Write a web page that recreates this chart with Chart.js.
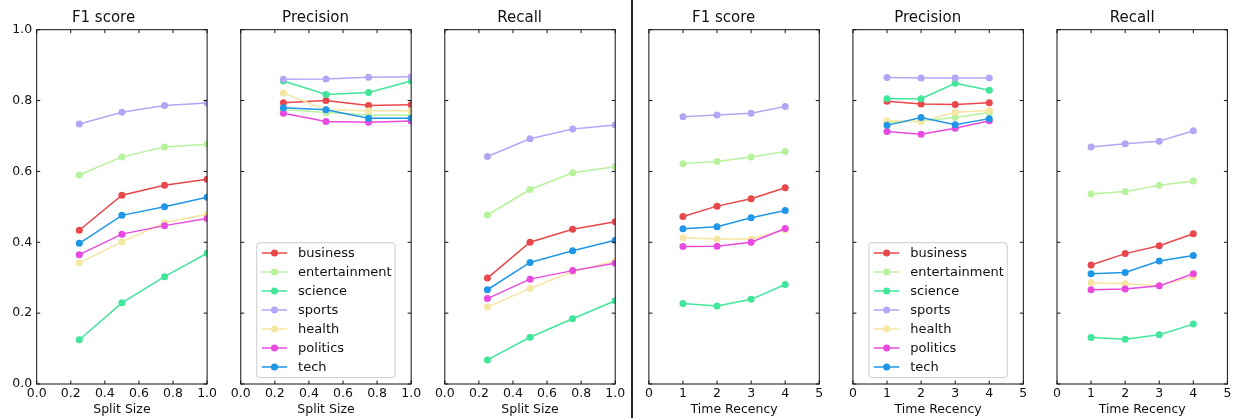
<!DOCTYPE html>
<html>
<head>
<meta charset="utf-8">
<script src="https://cdn.jsdelivr.net/npm/chart.js@4.4.0/dist/chart.umd.min.js"></script>
<style>
body { margin: 0; background: #fff; }
#wrap { position: relative; width: 1238px; height: 418px; overflow: hidden; }
canvas { position: absolute; top: 0; }
#divider { position: absolute; left: 631px; top: 0; width: 2px; height: 418px; background: #222; }
</style>
</head>
<body>
<div id="wrap"></div>
<script>
var categories = ['business', 'entertainment', 'science', 'sports', 'health', 'politics', 'tech'];
var colours = ['#e8474b', '#b9f29c', '#41e69b', '#b5a6f5', '#f5e6a1', '#e84ae0', '#1f96e8'];

var splitSizes = [0.25, 0.5, 0.75, 1.0];
var recencies = [1, 2, 3, 4];
var splitTicks = [0, 0.2, 0.4, 0.6, 0.8, 1.0];
var recencyTicks = [0, 1, 2, 3, 4, 5];
var yTicks = [0, 0.2, 0.4, 0.6, 0.8, 1.0];

// one row per category, same order as categories
var f1Split = [
	[0.434, 0.533, 0.561, 0.578],
	[0.590, 0.641, 0.669, 0.677],
	[0.125, 0.229, 0.303, 0.369],
	[0.734, 0.767, 0.786, 0.793],
	[0.342, 0.401, 0.455, 0.479],
	[0.365, 0.423, 0.447, 0.467],
	[0.397, 0.476, 0.500, 0.527]
];
var precSplit = [
	[0.794, 0.800, 0.786, 0.788],
	[0.775, 0.766, 0.759, 0.759],
	[0.855, 0.817, 0.823, 0.855],
	[0.860, 0.861, 0.866, 0.867],
	[0.821, 0.774, 0.771, 0.771],
	[0.764, 0.741, 0.739, 0.742],
	[0.780, 0.774, 0.750, 0.750]
];
var recSplit = [
	[0.299, 0.400, 0.437, 0.458],
	[0.477, 0.549, 0.596, 0.613],
	[0.068, 0.132, 0.184, 0.235],
	[0.642, 0.692, 0.720, 0.731],
	[0.217, 0.270, 0.317, 0.347],
	[0.241, 0.296, 0.320, 0.341],
	[0.266, 0.343, 0.376, 0.406]
];
var f1Time = [
	[0.473, 0.502, 0.523, 0.554],
	[0.622, 0.628, 0.641, 0.656],
	[0.227, 0.220, 0.239, 0.281],
	[0.754, 0.759, 0.764, 0.783],
	[0.413, 0.409, 0.409, 0.435],
	[0.388, 0.389, 0.400, 0.439],
	[0.438, 0.444, 0.469, 0.490]
];
var precTime = [
	[0.798, 0.790, 0.789, 0.794],
	[0.738, 0.742, 0.752, 0.766],
	[0.805, 0.805, 0.849, 0.829],
	[0.865, 0.864, 0.864, 0.864],
	[0.743, 0.740, 0.767, 0.772],
	[0.713, 0.705, 0.722, 0.743],
	[0.730, 0.752, 0.732, 0.749]
];
var recTime = [
	[0.336, 0.368, 0.390, 0.424],
	[0.536, 0.543, 0.561, 0.573],
	[0.131, 0.126, 0.139, 0.169],
	[0.669, 0.678, 0.685, 0.715],
	[0.286, 0.283, 0.277, 0.303],
	[0.266, 0.268, 0.277, 0.311],
	[0.311, 0.315, 0.347, 0.363]
];

var panels = [
	{ title: 'F1 score', xLabel: 'Split Size', xs: splitSizes, xTicks: splitTicks, max: 1, values: f1Split, legend: false },
	{ title: 'Precision', xLabel: 'Split Size', xs: splitSizes, xTicks: splitTicks, max: 1, values: precSplit, legend: true },
	{ title: 'Recall', xLabel: 'Split Size', xs: splitSizes, xTicks: splitTicks, max: 1, values: recSplit, legend: false },
	{ title: 'F1 score', xLabel: 'Time Recency', xs: recencies, xTicks: recencyTicks, max: 5, values: f1Time, legend: false },
	{ title: 'Precision', xLabel: 'Time Recency', xs: recencies, xTicks: recencyTicks, max: 5, values: precTime, legend: true },
	{ title: 'Recall', xLabel: 'Time Recency', xs: recencies, xTicks: recencyTicks, max: 5, values: recTime, legend: false }
];

Chart.defaults.font.family = 'DejaVu Sans';
Chart.defaults.color = '#111';

var PLOT_W = 170.4, PLOT_TOP = 29.7, PLOT_BOTTOM = 384, H = 418;

// box around the axes with inward ticks, plus the boxed legend
var framePlugin = {
	id: 'frame',
	afterDraw: function (chart) {
		var a = chart.chartArea, ctx = chart.ctx;
		var xs = chart.scales.x, ys = chart.scales.y, t = 3.5;
		ctx.save();
		ctx.strokeStyle = '#111';
		ctx.lineWidth = 1;
		ctx.strokeRect(a.left, a.top, a.right - a.left, a.bottom - a.top);
		ctx.beginPath();
		xs.ticks.forEach(function (tk) {
			var px = xs.getPixelForValue(tk.value);
			ctx.moveTo(px, a.bottom); ctx.lineTo(px, a.bottom - t);
			ctx.moveTo(px, a.top); ctx.lineTo(px, a.top + t);
		});
		ys.ticks.forEach(function (tk) {
			var py = ys.getPixelForValue(tk.value);
			ctx.moveTo(a.left, py); ctx.lineTo(a.left + t, py);
			ctx.moveTo(a.right, py); ctx.lineTo(a.right - t, py);
		});
		ctx.stroke();

		if (chart.options.plugins.frame.legend) {
			var bw = 138.3, bh = 135;
			var bx = a.left + 16, by = a.bottom - 6.3 - bh;
			ctx.fillStyle = 'rgba(255,255,255,0.85)';
			ctx.strokeStyle = '#cccccc';
			ctx.beginPath();
			ctx.roundRect(bx, by, bw, bh, 3);
			ctx.fill();
			ctx.stroke();
			ctx.font = '13px "DejaVu Sans"';
			ctx.textBaseline = 'middle';
			chart.data.datasets.forEach(function (ds, i) {
				var cy = by + 10.3 + i * 19;
				ctx.strokeStyle = ds.borderColor;
				ctx.lineWidth = 1.5;
				ctx.beginPath();
				ctx.moveTo(bx + 5, cy); ctx.lineTo(bx + 30.3, cy);
				ctx.stroke();
				ctx.fillStyle = ds.backgroundColor;
				ctx.beginPath();
				ctx.arc(bx + 17.7, cy, 3.5, 0, Math.PI * 2);
				ctx.fill();
				ctx.fillStyle = '#111';
				ctx.fillText(ds.label, bx + 41.3, cy + 0.5);
			});
		}
		ctx.restore();
	}
};

var wrap = document.getElementById('wrap');

panels.forEach(function (p, i) {
	var left = 36.7 + i * 204.06;
	var cLeft = i === 0 ? 0 : Math.floor(left) - 20;
	var yW = left - cLeft;
	var cW = Math.ceil(yW + PLOT_W + 20);
	var cv = document.createElement('canvas');
	cv.width = cW;
	cv.height = H;
	cv.style.left = cLeft + 'px';
	wrap.appendChild(cv);

	var datasets = categories.map(function (name, k) {
		return {
			label: name,
			data: p.xs.map(function (x, j) { return { x: x, y: p.values[k][j] }; }),
			borderColor: colours[k],
			backgroundColor: colours[k],
			borderWidth: 1.5,
			pointRadius: 3.5,
			pointBorderWidth: 0,
			pointHoverRadius: 3.5,
			order: categories.length - k
		};
	});

	new Chart(cv.getContext('2d'), {
		type: 'line',
		data: { datasets: datasets },
		plugins: [framePlugin],
		options: {
			responsive: false,
			animation: false,
			events: [],
			layout: { padding: { left: 0, right: cW - yW - PLOT_W, top: 0, bottom: 0 } },
			plugins: {
				legend: { display: false },
				tooltip: { enabled: false },
				title: {
					display: true,
					text: p.title,
					font: { size: 15, weight: 'normal' },
					color: '#111',
					padding: { top: 9, bottom: PLOT_TOP - 9 - 18 }
				},
				frame: { legend: p.legend }
			},
			scales: {
				x: {
					type: 'linear',
					min: 0,
					max: p.max,
					grid: { display: false, drawTicks: false },
					border: { display: false },
					afterBuildTicks: function (s) { s.ticks = p.xTicks.map(function (v) { return { value: v }; }); },
					afterFit: function (s) { s.height = H - PLOT_BOTTOM; },
					ticks: {
						padding: 2,
						font: { size: 12.5 },
						maxRotation: 0,
						autoSkip: false,
						callback: function (v) { return p.max === 1 ? v.toFixed(1) : String(v); }
					},
					title: {
						display: true,
						text: p.xLabel,
						font: { size: 12.5 },
						padding: { top: 0, bottom: 1 }
					}
				},
				y: {
					min: 0,
					max: 1,
					grid: { display: false, drawTicks: false },
					border: { display: false },
					afterBuildTicks: function (s) { s.ticks = yTicks.map(function (v) { return { value: v }; }); },
					afterFit: function (s) { s.width = yW; },
					ticks: {
						display: i === 0,
						padding: 4.5,
						font: { size: 12.5 },
						callback: function (v) { return v.toFixed(1); }
					}
				}
			}
		}
	});
});

var divider = document.createElement('div');
divider.id = 'divider';
wrap.appendChild(divider);
</script>
</body>
</html>
